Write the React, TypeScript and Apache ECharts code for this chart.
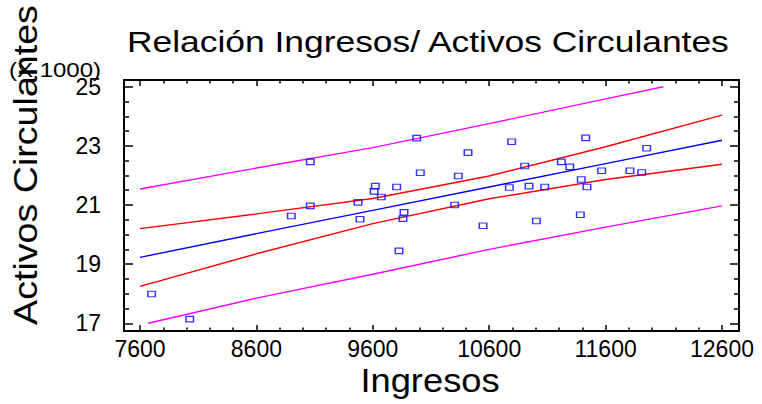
import React, { useEffect, useRef } from "react";
import * as echarts from "echarts";

// Scatter data: Ingresos vs Activos Circulantes (x1000)
const ingresos = [
  7700, 8027, 8900, 9063, 9063, 9473, 9490, 9611, 9622, 9673, 9805, 9825,
  9859, 9868, 9977, 10008, 10303, 10335, 10418, 10547, 10773, 10793, 10905,
  10942, 11005, 11077, 11220, 11292, 11383, 11391, 11429, 11440, 11566,
  11809, 11910, 11953,
];
const activos = [
  17.99, 17.14, 20.63, 22.46, 20.97, 21.09, 20.52, 21.46, 21.64, 21.27, 21.61,
  19.45, 20.54, 20.75, 23.26, 22.09, 21.0, 21.98, 22.77, 20.3, 21.59, 23.14,
  22.32, 21.64, 20.46, 21.61, 22.46, 22.29, 20.67, 21.86, 23.27, 21.61, 22.16,
  22.16, 22.1, 22.92,
];

// Fitted line and bands
const lineX = [7600, 8600, 9600, 10600, 11600, 12600];
const fitted = [19.23, 20.03, 20.82, 21.61, 22.4, 23.19];
const confUpper = [20.2, 20.7, 21.22, 21.98, 22.97, 24.04];
const confLower = [18.25, 19.35, 20.37, 21.21, 21.86, 22.38];
const predUpperX = [7600, 8600, 9600, 10600, 11600, 12096];
const predUpper = [21.54, 22.25, 22.94, 23.75, 24.59, 25.0];
const predLowerX = [7671, 8600, 9600, 10600, 11600, 12600];
const predLower = [17.0, 17.85, 18.66, 19.5, 20.25, 20.97];

// Axis settings
const xMin = 7600;
const xMax = 12600;
const xStep = 1000;
const yMin = 17;
const yMax = 25;
const yStep = 2;

const TITLE = "Relación Ingresos/ Activos Circulantes";
const X_NAME = "Ingresos";
const Y_NAME = "Activos Circulantes";
const Y_UNIT = "(X 1000)";

const FONT = '"Liberation Sans", Arial, sans-serif';

const pairs = (xs: number[], ys: number[]) => xs.map((x, i) => [x, ys[i]]);

export default function App() {
  const ref = useRef<HTMLDivElement>(null);

  useEffect(() => {
    if (!ref.current) return;
    const chart = echarts.init(ref.current, null, { renderer: "svg" });

    const tickStyle = { color: "#000", width: 1.5 };
    const labelStyle = {
      color: "#000",
      fontSize: 23,
      fontFamily: FONT,
      formatter: (v: number) => String(v),
    };

    const xAxisBase = {
      type: "value" as const,
      min: xMin,
      max: xMax,
      interval: xStep,
      axisLine: { show: false },
      splitLine: { show: false },
      axisTick: { show: true, inside: true, length: 6, lineStyle: tickStyle },
      minorTick: { show: true, splitNumber: 5, length: 3.5, lineStyle: tickStyle },
    };
    const yAxisBase = {
      type: "value" as const,
      min: yMin,
      max: yMax,
      interval: yStep,
      axisLine: { show: false },
      splitLine: { show: false },
      axisTick: { show: true, inside: true, length: 9, lineStyle: tickStyle },
      minorTick: { show: true, splitNumber: 4, length: 5, lineStyle: tickStyle },
    };

    const lineSeries = (name: string, data: number[][], color: string) => ({
      name,
      type: "line" as const,
      data,
      showSymbol: false,
      symbol: "none",
      clip: false,
      lineStyle: { color, width: 1.4 },
      z: 2,
    });

    chart.setOption({
      animation: false,
      backgroundColor: "#fff",
      grid: { left: 140, right: 40, top: 86.7, bottom: 80.7 },
      xAxis: [
        {
          ...xAxisBase,
          position: "bottom",
          offset: 7.7,
          axisLabel: { ...labelStyle, margin: 6 },
        },
        {
          ...xAxisBase,
          position: "top",
          offset: 6.7,
          axisLabel: { show: false },
        },
      ],
      yAxis: [
        {
          ...yAxisBase,
          position: "left",
          offset: 16,
          axisLabel: { ...labelStyle, margin: 23 },
        },
        {
          ...yAxisBase,
          position: "right",
          offset: 17,
          axisLabel: { show: false },
        },
      ],
      series: [
        lineSeries("pred-upper", pairs(predUpperX, predUpper), "#ff00ff"),
        lineSeries("pred-lower", pairs(predLowerX, predLower), "#ff00ff"),
        lineSeries("conf-upper", pairs(lineX, confUpper), "#ff0000"),
        lineSeries("conf-lower", pairs(lineX, confLower), "#ff0000"),
        lineSeries("fitted", pairs(lineX, fitted), "#0000ff"),
        {
          name: "data",
          type: "scatter",
          data: pairs(ingresos, activos),
          symbol: "rect",
          symbolSize: [7.5, 5.5],
          itemStyle: {
            color: "rgba(0,0,0,0)",
            borderColor: "#0000ff",
            borderWidth: 1.3,
          },
          z: 3,
        },
      ],
      graphic: [
        {
          type: "rect",
          shape: { x: 124, y: 80, width: 615, height: 251 },
          style: { fill: "none", stroke: "#000", lineWidth: 2 },
          z: 10,
        },
        {
          type: "text",
          x: 127,
          y: 41,
          scaleX: 1.18,
          style: {
            text: TITLE,
            fontSize: 30,
            fontFamily: FONT,
            fill: "#000",
            align: "left",
            verticalAlign: "middle",
          },
          z: 10,
        },
        {
          type: "text",
          x: 25,
          y: 165,
          rotation: Math.PI / 2,
          scaleX: 1.14,
          style: {
            text: Y_NAME,
            fontSize: 33,
            fontFamily: FONT,
            fill: "#000",
            align: "center",
            verticalAlign: "middle",
          },
          z: 10,
        },
        {
          type: "text",
          x: 9,
          y: 70.5,
          scaleX: 1.2,
          style: {
            text: Y_UNIT,
            fontSize: 20,
            fontFamily: FONT,
            fill: "#000",
            align: "left",
            verticalAlign: "middle",
          },
          z: 11,
        },
        {
          type: "text",
          x: 430,
          y: 381,
          scaleX: 1.1,
          style: {
            text: X_NAME,
            fontSize: 33,
            fontFamily: FONT,
            fill: "#000",
            align: "center",
            verticalAlign: "middle",
          },
          z: 10,
        },
      ],
    });

    return () => chart.dispose();
  }, []);

  return (
    <div
      ref={ref}
      style={{ position: "fixed", left: 0, top: 0, width: 762, height: 404 }}
    />
  );
}
